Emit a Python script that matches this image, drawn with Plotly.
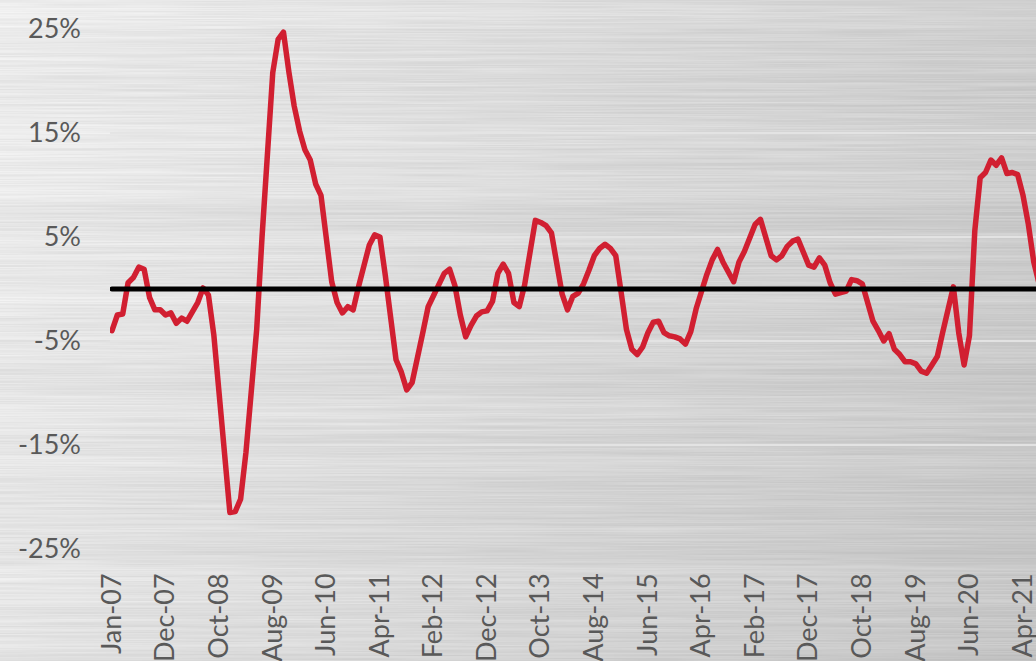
import base64
import struct
import zlib

import numpy as np
import plotly.graph_objects as go

# ---- data -------------------------------------------------------------
# monthly year-over-year change, in percent
values = [
    -4.0, -2.5, -2.4, 0.6, 1.1, 2.1, 1.9, -0.8, -2.0, -2.0,
    -2.5, -2.3, -3.3, -2.8, -3.1, -2.2, -1.3, 0.1, -0.6, -4.4,
    -10.2, -15.8, -21.5, -21.4, -20.2, -15.7, -10.0, -3.9, 5.0, 14.0,
    20.8, 24.0, 24.7, 20.9, 17.6, 15.2, 13.4, 12.4, 10.1, 9.0,
    4.3, 0.7, -1.3, -2.3, -1.7, -2.0, 0.2, 2.2, 4.2, 5.2,
    5.0, 1.3, -2.5, -6.8, -8.0, -9.7, -9.0, -6.8, -4.2, -1.7,
    -0.7, 0.5, 1.5, 1.9, 0.3, -2.5, -4.6, -3.5, -2.6, -2.2,
    -2.1, -1.2, 1.5, 2.4, 1.5, -1.3, -1.7, 0.4, 3.6, 6.6,
    6.4, 6.1, 5.4, 2.5, -0.5, -2.0, -0.7, -0.4, 0.5, 1.8,
    3.2, 3.9, 4.3, 3.9, 3.2, -0.3, -3.9, -5.8, -6.3, -5.6,
    -4.2, -3.2, -3.1, -4.2, -4.5, -4.6, -4.8, -5.3, -4.1, -1.9,
    0.0, 1.4, 2.8, 3.8, 2.6, 1.5, 0.7, 2.6, 3.6, 4.9,
    6.2, 6.7, 5.0, 3.2, 2.8, 3.2, 4.1, 4.6, 4.8, 3.6,
    2.3, 2.1, 3.0, 2.3, 0.6, -0.5, -0.4, -0.2, 0.9, 0.8,
    0.5, -1.4, -3.1, -4.0, -5.0, -4.3, -5.8, -6.3, -7.0, -7.0,
    -7.2, -7.9, -8.1, -7.3, -6.5, -4.2, -1.8, 0.2, -4.2, -7.3,
    -4.5, 5.6, 10.7, 11.2, 12.4, 11.9, 12.6, 11.1, 11.2, 11.0,
    9.0, 6.2, 2.6, 0.5,
]
baseline = [0.0] * len(values)
periods = list(range(len(values)))

tick_labels = [
    "Jan-07", "Dec-07", "Oct-08", "Aug-09", "Jun-10", "Apr-11", "Feb-12",
    "Dec-12", "Oct-13", "Aug-14", "Jun-15", "Apr-16", "Feb-17", "Dec-17",
    "Oct-18", "Aug-19", "Jun-20", "Apr-21",
]
tick_positions = list(range(0, 10 * len(tick_labels), 10))
y_ticks = [-25, -15, -5, 5, 15, 25]
y_tick_text = ["-25%", "-15%", "-5%", "5%", "15%", "25%"]

# ---- brushed-metal backdrop ------------------------------------------
W, H = 1036, 661
TW, TH = 259, 661


def hash01(a):
    return np.modf(np.abs(np.sin(a * 12.9898 + 78.233) * 43758.5453))[0]


rows = np.arange(TH, dtype=float)[:, None]
cols = np.arange(TW, dtype=float)[None, :]
xx = cols / (TW - 1)
yy = rows / (TH - 1)

row_tone = hash01(rows * 1.37) - 0.5
row_tone = (row_tone + 0.4 * np.roll(row_tone, 1, 0) + 0.4 * np.roll(row_tone, -1, 0)) / 1.8

seg = cols / 18.0
k0 = np.floor(seg)
f = seg - k0
f = f * f * (3 - 2 * f)
n0 = hash01(rows * 7.31 + k0 * 3.17)
n1 = hash01(rows * 7.31 + (k0 + 1) * 3.17)
streak = (n0 + (n1 - n0) * f) - 0.5

band = np.sin(rows / 9.0) * 0.5 + np.sin(rows / 23.0 + 1.3) * 0.5

tex = 237 - 30 * xx - 9 * yy + 12 * row_tone + 11 * streak + 3 * band
tex = np.clip(tex, 0, 255).astype(np.uint8)


def png_gray(arr):
    h, w = arr.shape
    raw = b"".join(b"\x00" + arr[i].tobytes() for i in range(h))

    def chunk(tag, data):
        out = struct.pack(">I", len(data)) + tag + data
        return out + struct.pack(">I", zlib.crc32(tag + data) & 0xFFFFFFFF)

    return (b"\x89PNG\r\n\x1a\n"
            + chunk(b"IHDR", struct.pack(">IIBBBBB", w, h, 8, 0, 0, 0, 0))
            + chunk(b"IDAT", zlib.compress(raw, 9))
            + chunk(b"IEND", b""))


backdrop = "data:image/png;base64," + base64.b64encode(png_gray(tex)).decode()

# ---- figure -----------------------------------------------------------
ML, MR, MT, MB = 110, 0, 29, 112
PW, PH = W - ML - MR, H - MT - MB
LABEL_FONT = dict(family="Lato, 'Open Sans', sans-serif", size=27, color="#595959")
RED = "#D11F31"

fig = go.Figure()
fig.add_trace(go.Scatter(
    x=periods, y=values, mode="lines",
    line=dict(color=RED, width=5.5), hoverinfo="skip",
))
fig.add_trace(go.Scatter(
    x=periods, y=baseline, mode="lines",
    line=dict(color="#000000", width=5), hoverinfo="skip",
))

fig.update_layout(
    width=W, height=H,
    margin=dict(l=ML, r=MR, t=MT, b=MB, pad=0),
    paper_bgcolor="rgba(0,0,0,0)",
    plot_bgcolor="rgba(0,0,0,0)",
    showlegend=False,
    images=[dict(
        source=backdrop, xref="paper", yref="paper",
        x=-ML / PW, y=1 + MT / PH, sizex=W / PW, sizey=H / PH,
        xanchor="left", yanchor="top", sizing="stretch", layer="below",
    )],
    xaxis=dict(
        range=[-0.37, 172.42], tickmode="array",
        tickvals=tick_positions, ticktext=tick_labels, tickangle=-90,
        showgrid=False, zeroline=False, showline=False, ticks="",
        tickfont=LABEL_FONT, ticklabelstandoff=18, automargin=False,
        ticklabeloverflow="allow",
    ),
    yaxis=dict(
        range=[-25, 25], tickmode="array",
        tickvals=y_ticks, ticktext=y_tick_text,
        showgrid=True, gridcolor="rgba(228,228,228,0.95)", gridwidth=1.5,
        zeroline=False, showline=False, ticks="",
        tickfont=LABEL_FONT, ticklabelstandoff=28, automargin=False,
    ),
)

round_joins = (
    "var s=document.createElement('style');"
    "s.textContent='.js-line{stroke-linejoin:round;stroke-linecap:round;}';"
    "document.head.appendChild(s);"
)
fig.write_html("out.html", post_script=round_joins)
